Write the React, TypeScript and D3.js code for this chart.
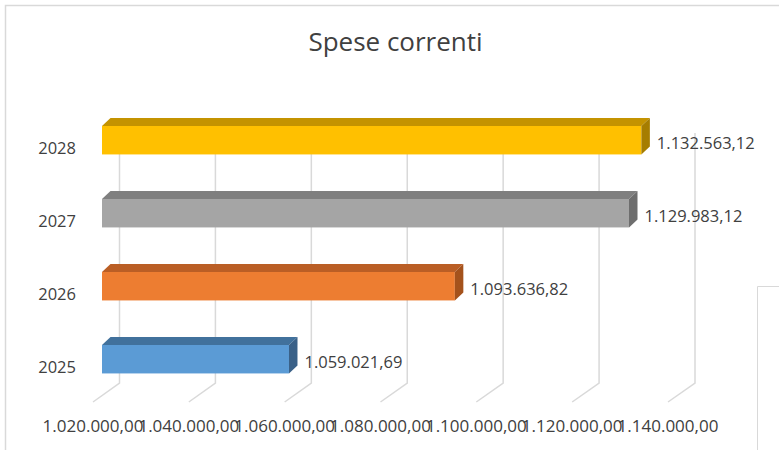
import * as d3 from "d3";

const years = ["2025", "2026", "2027", "2028"];
const values = [1059021.69, 1093636.82, 1129983.12, 1132563.12];
const frontColors = ["#5B9BD5", "#ED7D31", "#A5A5A5", "#FFC000"];
const topColors = ["#41719C", "#BA5E25", "#7F7F7F", "#C49300"];
const sideColors = ["#3A6188", "#A4521C", "#6E6E6E", "#A67D00"];
const tickValues = [1020000, 1040000, 1060000, 1080000, 1100000, 1120000, 1140000];
const title = "Spese correnti";

const it = d3.formatLocale({ decimal: ",", thousands: ".", grouping: [3], currency: ["", "€"] });
const fmt = it.format(",.2f");

const W = 779;
const H = 450;
const font = "'Open Sans', sans-serif";
const textColor = "#404040";

// back wall, floor front edge and bar front faces sit at different depths
const xBack = d3.scaleLinear().domain([1020000, 1140000]).range([119.5, 695]);
const xFront = d3.scaleLinear().domain([1020000, 1140000]).range([93, 668]);
const xBar = d3.scaleLinear().domain([1020000, 1140000]).range([102, 677]);

const y = d3.scaleBand()
  .domain(["2028", "2027", "2026", "2025"])
  .range([103.7, 395.7])
  .paddingInner(0.61)
  .paddingOuter(0.305);

const wallTop = 133;
const wallBottom = 383;
const floorFront = 402;
const depthX = 8.5;
const depthY = 8;

const App = () => {
  const bw = y.bandwidth();
  return (
    <div style={{ position: "fixed", left: 0, top: 0 }}>
      <svg width={W} height={H} style={{ display: "block", background: "#fff" }}>
        {/* chart area border */}
        <path d={`M5.5,${H} V5.5 H${W}`} fill="none" stroke="#d9d9d9" strokeWidth={1.5} />
        <path d={`M757.5,${H} V286.5 H${W}`} fill="none" stroke="#d9d9d9" strokeWidth={1} />

        <text x={395.5} y={51} textAnchor="middle" fontFamily={font} fontSize={26} fill={textColor}>
          {title}
        </text>

        {/* gridlines on the back wall + floor */}
        {tickValues.map((t) => (
          <path
            key={t}
            d={`M${xBack(t)},${wallTop} V${wallBottom} L${xFront(t)},${floorFront}`}
            fill="none"
            stroke="#d9d9d9"
            strokeWidth={1.5}
          />
        ))}

        {tickValues.map((t) => (
          <text
            key={"l" + t}
            x={xFront(t)}
            y={432}
            textAnchor="middle"
            fontFamily={font}
            fontSize={17}
            fill={textColor}
          >
            {fmt(t)}
          </text>
        ))}

        {years.map((yr, i) => {
          const x0 = xBar(1020000);
          const x1 = xBar(values[i]);
          const yt = y(yr)!;
          const yb = yt + bw;
          return (
            <g key={yr}>
              <rect x={x0} y={yt} width={x1 - x0} height={bw} fill={frontColors[i]} />
              <polygon
                points={`${x0},${yt} ${x0 + depthX},${yt - depthY} ${x1 + depthX},${yt - depthY} ${x1},${yt}`}
                fill={topColors[i]}
              />
              <polygon
                points={`${x1},${yt} ${x1 + depthX},${yt - depthY} ${x1 + depthX},${yb - depthY} ${x1},${yb}`}
                fill={sideColors[i]}
              />
              <text
                x={x1 + depthX + 7}
                y={yt + bw / 2 + 2}
                dominantBaseline="central"
                fontFamily={font}
                fontSize={16.5}
                fill={textColor}
              >
                {fmt(values[i])}
              </text>
              <text
                x={76}
                y={yt + bw / 2 + 7}
                textAnchor="end"
                dominantBaseline="central"
                fontFamily={font}
                fontSize={16.5}
                fill={textColor}
              >
                {yr}
              </text>
            </g>
          );
        })}
      </svg>
    </div>
  );
};

export default App;
